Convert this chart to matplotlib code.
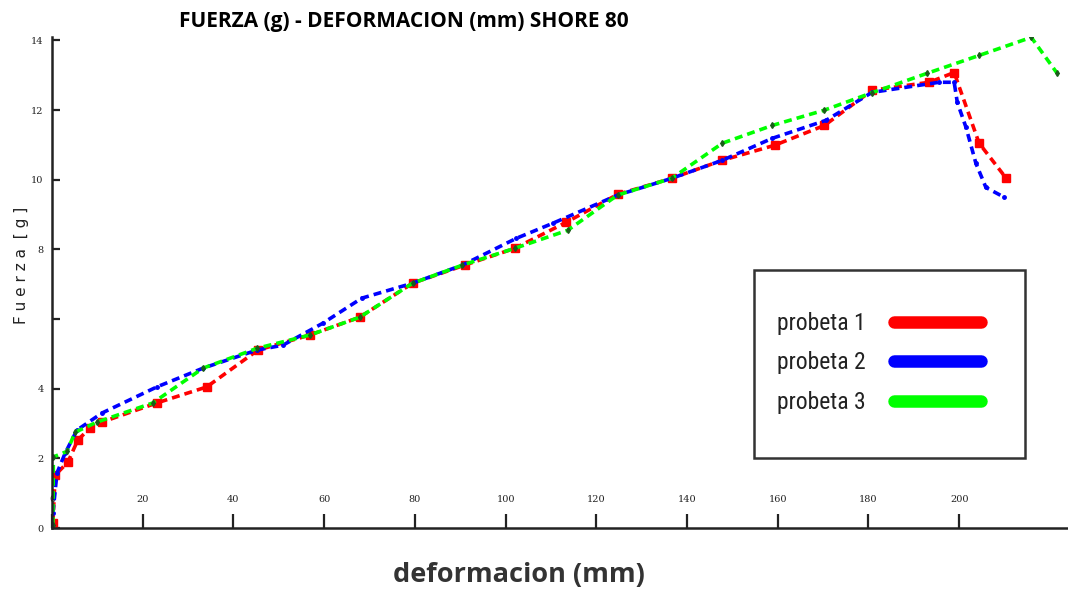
import matplotlib
matplotlib.use("Agg")
import matplotlib.pyplot as plt
from matplotlib.patches import Rectangle
from matplotlib.lines import Line2D

# deformacion (mm) / fuerza (g)
p1_x = [0.2, 0.7, 3.5, 5.7, 8.4, 11.0, 23.1, 34.1, 45.4, 56.8, 67.8, 79.5, 91.0,
        102.0, 113.4, 124.7, 136.6, 147.8, 159.3, 170.3, 180.8, 193.4, 198.9, 204.4, 210.4]
p1_y = [0.14, 1.52, 1.89, 2.53, 2.87, 3.04, 3.59, 4.05, 5.11, 5.54, 6.05, 7.03, 7.55,
        8.03, 8.78, 9.58, 10.04, 10.56, 10.99, 11.56, 12.57, 12.80, 13.08, 11.05, 10.04]

p2_x = [0.2, 1.1, 2.9, 5.5, 11.0, 23.1, 33.3, 45.2, 50.9, 59.7, 68.3, 79.5, 90.5, 102.4,
        110.4, 124.7, 136.6, 147.8, 158.8, 170.7, 180.8, 195.6, 198.9, 199.6, 201.5,
        203.7, 205.9, 209.9]
p2_y = [0.43, 1.58, 2.15, 2.81, 3.30, 4.05, 4.59, 5.11, 5.25, 5.88, 6.60, 7.03, 7.55, 8.32,
        8.75, 9.56, 10.04, 10.56, 11.19, 11.71, 12.51, 12.80, 12.80, 12.22, 11.51,
        10.47, 9.78, 9.50]

p3_x = [0.2, 0.3, 3.3, 5.1, 9.9, 22.2, 33.3, 45.2, 56.8, 67.8, 79.5, 90.5, 102.0, 113.7,
        124.7, 136.6, 147.8, 158.8, 170.3, 180.8, 193.0, 204.4, 215.9, 221.6]
p3_y = [0.09, 2.04, 2.20, 2.75, 3.04, 3.59, 4.59, 5.16, 5.54, 6.05, 7.03, 7.55, 8.03, 8.55,
        9.56, 10.04, 11.05, 11.56, 12.00, 12.50, 13.06, 13.57, 14.09, 13.06]

x_ticks = [0, 20, 40, 60, 80, 100, 120, 140, 160, 180, 200]
x_tick_labels = ['0', '20', '40', '60', '80', '100', '120', '140', '160', '180', '200']
y_ticks = [0, 2, 4, 6, 8, 10, 12, 14]
y_tick_labels = ['0', '2', '4', '', '8', '10', '12', '14']
labels = ['probeta 1', 'probeta 2', 'probeta 3']
colors = ['#ff0000', '#0000ff', '#00ff00']

fig = plt.figure(figsize=(10.68, 5.91), dpi=100)
ax = fig.add_axes([52 / 1068, 63 / 591, 1016 / 1068, 491 / 591])

dash = (0, (2.2, 1.4))
ax.plot(p1_x, p1_y, color=colors[0], lw=2.6, ls=dash, marker='s', ms=5.5,
        mfc=colors[0], mec=colors[0])
ax.plot(p2_x, p2_y, color=colors[1], lw=2.6, ls=dash, marker='o', ms=2.5,
        mfc=colors[1], mec=colors[1])
ax.plot(p3_x, p3_y, color=colors[2], lw=2.6, ls=dash, marker='d', ms=3,
        mfc='#1a5c1a', mec='#1a5c1a')

ax.set_xlim(0, 224)
ax.set_ylim(0, 14.1)

for s in ['top', 'right']:
    ax.spines[s].set_visible(False)
for s in ['left', 'bottom']:
    ax.spines[s].set_linewidth(1.8)
    ax.spines[s].set_color('#222222')

ax.set_xticks(x_ticks)
ax.set_xticklabels(x_tick_labels, fontsize=7, family='DejaVu Serif')
ax.set_yticks(y_ticks)
ax.set_yticklabels(y_tick_labels, fontsize=7, family='DejaVu Serif')
ax.tick_params(axis='x', direction='in', length=10, width=1.6, pad=-24, colors='#222222')
ax.tick_params(axis='y', direction='in', length=6, width=1.6, pad=6, colors='#222222')

fig.text(404 / 1068, 569 / 591, 'FUERZA (g) - DEFORMACION (mm) SHORE 80',
         ha='center', va='center', fontsize=15, fontweight='bold', family='Open Sans')
fig.text(519 / 1068, 16 / 591, 'deformacion (mm)', ha='center', va='center',
         fontsize=19.5, fontweight='bold', family='Open Sans', color='#333333')
fig.text(22 / 1068, 326 / 591, 'F u e r z a  [ g ]', ha='center', va='center',
         rotation=90, fontsize=11, family='DejaVu Sans', color='#222222')

# legend box
fig.patches.append(Rectangle((754 / 1068, 133 / 591), 271 / 1068, 188 / 591,
                             transform=fig.transFigure, fill=False, lw=1.8,
                             ec='#333333'))
handles = [Line2D([0], [0], color=c, lw=9, solid_capstyle='round') for c in colors]
fig.legend(handles, labels, loc='upper left', bbox_to_anchor=(765 / 1068, 291 / 591),
           frameon=False, markerfirst=False, handlelength=3.7, handletextpad=1.2,
           labelspacing=0.7, borderpad=0,
           prop={'family': ['Roboto Condensed', 'Liberation Sans Narrow', 'Liberation Sans'],
                 'size': 17},
           labelcolor='#222222', alignment='left')

fig.savefig('out.png', dpi=100)
